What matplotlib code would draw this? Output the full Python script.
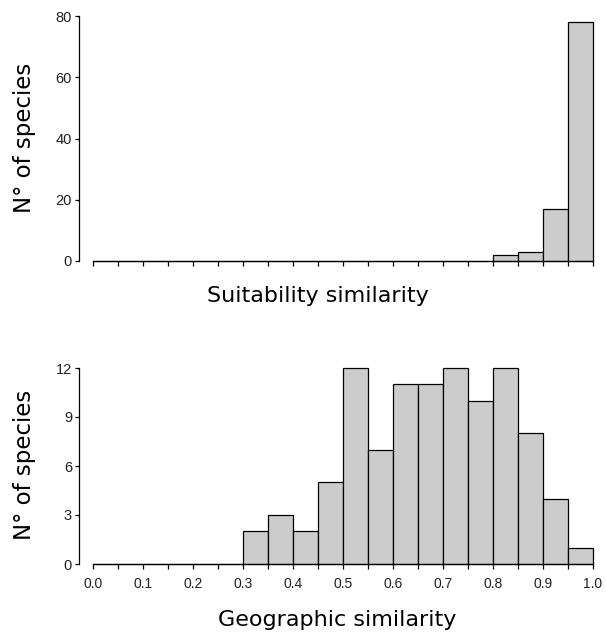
import numpy as np
import matplotlib
matplotlib.use("Agg")
import matplotlib.pyplot as plt
from matplotlib.ticker import MultipleLocator, NullFormatter

# bin edges (width 0.05 from 0 to 1)
bin_edges = np.round(np.arange(0, 1.0001, 0.05), 2)

# counts per bin
suit_counts = [0, 0, 0, 0, 0, 0, 0, 0, 0, 0, 0, 0, 0, 0, 0, 0, 2, 3, 17, 78]
geo_counts = [0, 0, 0, 0, 0, 0, 2, 3, 2, 5, 12, 7, 11, 11, 12, 10, 12, 8, 4, 1]

suit_yticks = [0, 20, 40, 60, 80]
geo_yticks = [0, 3, 6, 9, 12]

W, H = 606, 637
fig = plt.figure(figsize=(W / 100, H / 100), dpi=100)


def px_axes(left, top, right, bottom):
    return fig.add_axes([left / W, 1 - bottom / H, (right - left) / W, (bottom - top) / H])


def draw_hist(ax, counts, yticks, show_xlabels):
    widths = np.diff(bin_edges)
    ax.bar(bin_edges[:-1], counts, width=widths, align='edge',
           color='#cccccc', edgecolor='black', linewidth=0.9, clip_on=False)
    ax.set_xlim(-0.028, 1.014)
    ax.set_ylim(0, yticks[-1])
    for s in ['top', 'right']:
        ax.spines[s].set_visible(False)
    ax.spines['left'].set_bounds(0, yticks[-1])
    ax.spines['bottom'].set_bounds(0, 1)
    ax.spines['left'].set_linewidth(0.9)
    ax.spines['bottom'].set_linewidth(0.9)
    ax.set_yticks(yticks)
    ax.xaxis.set_major_locator(MultipleLocator(0.1))
    ax.xaxis.set_minor_locator(MultipleLocator(0.05))
    ax.tick_params(axis='y', length=3, width=0.9, labelsize=10.5,
                   labelcolor='#222222', pad=2)
    ax.tick_params(axis='x', which='both', length=3.5, width=0.9,
                   labelsize=10, labelcolor='#222222', pad=6)
    if show_xlabels:
        ax.set_xticklabels(['%.1f' % v for v in ax.get_xticks()])
    else:
        ax.xaxis.set_major_formatter(NullFormatter())
    for lab in ax.get_xticklabels() + ax.get_yticklabels():
        lab.set_family('Liberation Sans')


ax1 = px_axes(79, 16, 600, 261)
draw_hist(ax1, suit_counts, suit_yticks, False)

ax2 = px_axes(79, 368, 600, 564)
draw_hist(ax2, geo_counts, geo_yticks, True)

fig.text(318 / W, 1 - 296 / H, 'Suitability similarity', ha='center', va='center',
         fontsize=16, family='DejaVu Sans')
fig.text(337 / W, 1 - 620 / H, 'Geographic similarity', ha='center', va='center',
         fontsize=16, family='DejaVu Sans')
fig.text(25 / W, 1 - 138 / H, 'N° of species', ha='center', va='center',
         rotation=90, fontsize=16.5, family='DejaVu Sans')
fig.text(25 / W, 1 - 465 / H, 'N° of species', ha='center', va='center',
         rotation=90, fontsize=16.5, family='DejaVu Sans')

fig.savefig('out.png', dpi=100)
